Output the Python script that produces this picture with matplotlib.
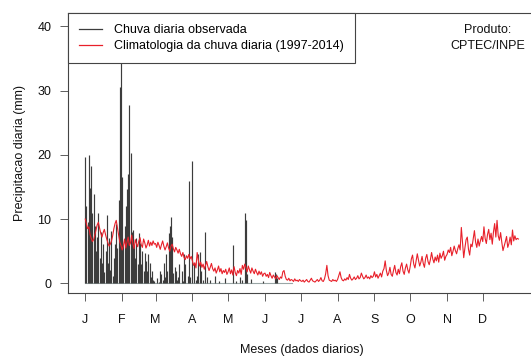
import numpy as np
import matplotlib
matplotlib.use("Agg")
import matplotlib.pyplot as plt
from matplotlib.lines import Line2D

# chuva diaria observada (mm), dias 1..175
obs = [19.7, 12.1, 9.5, 19.9, 14.8, 18.3, 11.0, 13.9, 9.0, 5.0,
       7.2, 10.9, 4.0, 8.0, 3.1, 6.2, 1.8, 5.0, 10.7, 3.2,
       7.0, 2.1, 8.1, 1.2, 4.0, 6.1, 9.2, 5.5, 13.0, 30.5,
       35.0, 16.5, 6.0, 9.0, 12.0, 14.7, 17.0, 27.7, 20.3, 8.0,
       8.3, 6.0, 4.0, 7.0, 3.0, 7.9, 6.3, 3.0, 5.0, 2.0,
       4.7, 3.5, 2.0, 4.6, 3.1, 1.0, 2.0, 0.5, 0.3, 0.0,
       0.8, 0.0, 0.2, 2.0, 1.5, 0.5, 3.2, 1.0, 4.6, 2.0,
       7.8, 9.0, 10.4, 7.2, 1.6, 2.6, 2.0, 0.5, 1.0, 3.0,
       0.0, 2.0, 0.4, 4.6, 3.0, 0.0, 1.2, 16.0, 1.0, 0.0,
       19.1, 3.1, 0.0, 0.5, 1.2, 4.6, 4.9, 2.0, 0.0, 0.6,
       0.0, 8.0, 1.0, 0.0, 0.0, 0.5, 0.0, 0.0, 0.0, 1.2,
       0.0, 0.0, 0.3, 0.0, 0.0, 0.0, 0.0, 0.8, 0.0, 0.0,
       0.0, 0.0, 0.0, 0.0, 5.9, 0.0, 0.0, 0.4, 0.0, 0.0,
       1.0, 0.0, 0.6, 0.0, 10.9, 9.8, 1.5, 0.0, 0.0, 0.7,
       0.0, 0.0, 0.0, 0.0, 0.0, 0.0, 0.0, 0.0, 0.0, 0.3,
       0.0, 0.0, 0.0, 0.0, 0.0, 0.0, 0.0, 0.0, 0.0, 1.8,
       1.5, 0.9, 0.0, 0.0, 0.0, 0.0, 0.0, 0.0, 0.0, 0.0,
       0.0, 0.0, 0.0, 0.0, 0.0]

# climatologia da chuva diaria 1997-2014 (mm), por mes
clim_jan = [10.0, 9.2, 8.5, 8.8, 7.6, 7.0, 6.5, 6.8, 7.5, 8.3, 9.1, 9.5, 8.6, 7.8, 7.2, 7.9,
            8.4, 7.6, 6.9, 6.3, 5.8, 6.1, 6.6, 7.4, 8.5, 9.3, 9.8, 8.7, 7.5, 6.4, 5.9]
clim_fev = [5.2, 5.8, 6.9, 5.5, 6.4, 7.2, 5.9, 6.3, 7.5, 6.1, 5.4, 6.8, 6.2, 5.7, 6.6, 7.1,
            6.0, 5.6, 6.9, 6.3, 5.5, 6.0, 6.7, 5.8, 6.4, 5.9, 6.6, 6.1]
clim_mar = [6.2, 5.6, 6.4, 5.9, 5.3, 6.0, 6.6, 5.8, 5.2, 5.7, 6.3, 5.5, 5.0, 5.8, 6.1, 5.4,
            4.9, 5.6, 5.2, 4.7, 5.3, 4.6, 4.2, 4.8, 4.0, 3.7, 4.3, 3.9, 4.5, 3.8, 4.2]
clim_abr = [3.5, 2.8, 3.2, 2.4, 4.8, 3.6, 2.7, 3.3, 2.5, 3.0, 2.2, 2.8, 3.4, 2.6, 2.0, 2.5,
            3.1, 2.3, 1.9, 2.4, 1.6, 2.1, 2.7, 1.8, 2.3, 1.5, 2.0, 1.7, 2.2, 1.4]
clim_mai = [1.8, 2.4, 1.5, 2.1, 1.3, 2.6, 1.7, 1.2, 2.0, 1.6, 2.3, 1.4, 2.8, 2.2, 3.0, 2.5,
            1.8, 2.7, 2.1, 1.6, 2.4, 1.9, 1.5, 2.2, 1.7, 1.3, 1.9, 1.4, 1.8, 1.1, 1.5]
clim_jun = [1.6, 1.1, 1.4, 0.9, 1.7, 1.2, 0.8, 1.3, 1.0, 0.7, 1.2, 0.9, 0.6, 1.0, 0.8, 1.8,
            2.0, 1.1, 0.6, 0.5, 0.8, 0.4, 0.6, 0.5, 0.3, 0.7, 0.4, 0.5, 0.3, 0.6]
clim_jul = [0.4, 0.3, 0.5, 0.2, 0.4, 0.6, 0.3, 0.2, 0.5, 0.8, 0.4, 0.3, 0.2, 0.4, 0.6, 0.3,
            0.5, 0.9, 0.4, 0.3, 0.7, 1.5, 2.8, 1.2, 0.5, 0.4, 0.3, 0.6, 0.4, 0.5, 0.3]
clim_ago = [0.6, 1.2, 1.8, 0.9, 0.5, 0.4, 0.7, 0.5, 0.9, 0.6, 1.4, 0.8, 0.5, 0.7, 1.0, 0.6,
            0.8, 1.2, 0.7, 0.9, 1.6, 1.1, 0.7, 0.9, 1.3, 0.8, 1.0, 0.7, 1.2, 0.9, 1.1]
clim_set = [1.8, 1.0, 1.4, 0.8, 1.2, 1.6, 1.0, 1.9, 2.3, 3.5, 2.0, 1.2, 1.6, 2.5, 1.4, 1.1,
            2.0, 2.8, 1.7, 1.3, 2.2, 1.5, 2.6, 3.2, 1.9, 1.4, 2.4, 3.0, 2.1, 1.6]
clim_out = [2.6, 3.8, 4.4, 3.0, 2.4, 3.5, 4.6, 3.6, 2.7, 3.3, 4.2, 3.1, 2.5, 3.9, 4.5, 3.4,
            2.9, 3.7, 4.8, 3.8, 3.2, 4.1, 3.5, 4.4, 3.3, 4.7, 3.9, 4.3, 5.0, 3.6, 4.2]
clim_nov = [4.5, 5.2, 4.8, 5.6, 4.3, 5.0, 5.8, 5.1, 4.6, 5.4, 6.0, 5.2, 8.7, 6.3, 4.0, 5.5,
            6.8, 7.2, 5.3, 4.4, 6.1, 5.7, 7.0, 8.2, 6.4, 5.6, 6.9, 5.8, 6.6, 7.3]
clim_dez = [6.5, 8.8, 7.0, 6.2, 7.6, 8.4, 6.8, 7.8, 6.1, 8.0, 9.3, 7.2, 9.8, 7.4, 6.7, 7.9,
            6.4, 5.1, 5.8, 6.5, 7.3, 5.6, 6.2, 7.2, 6.0, 8.3, 6.6, 7.4, 6.8, 7.0, 6.9]

meses = ["J", "F", "M", "A", "M", "J", "J", "A", "S", "O", "N", "D"]
dias_mes = [31, 28, 31, 30, 31, 30, 31, 31, 30, 31, 30, 31]

clim = np.concatenate([clim_jan, clim_fev, clim_mar, clim_abr, clim_mai, clim_jun,
                       clim_jul, clim_ago, clim_set, clim_out, clim_nov, clim_dez])
dias = np.arange(1, len(clim) + 1)
dias_obs = np.arange(1, len(obs) + 1)
inicio_mes = np.cumsum([1] + dias_mes[:-1])

plt.rcParams['font.family'] = ['Liberation Sans', 'DejaVu Sans']

fig = plt.figure(figsize=(5.31, 3.56), dpi=100)
ax = fig.add_axes([0.128, 0.176, 0.881, 0.7865])

ax.plot(dias_obs, np.zeros(len(obs)), color="#9aa6a6", lw=0.8, zorder=1)
ax.vlines(dias_obs, 0, obs, color="#3c3c3c", lw=0.85, zorder=2)
ax.plot(dias, clim, color="#e8202a", lw=0.8, zorder=3)

ax.set_xlim(-13.56, 379.56)
ax.set_ylim(-1.55, 42.0)
ax.set_xticks(inicio_mes)
ax.set_xticklabels(meses)
ax.set_yticks([0, 10, 20, 30, 40])
ax.tick_params(axis="both", direction="out", length=6, width=0.6, labelsize=9,
               color="#444444", labelcolor="#111111")
ax.tick_params(axis="x", pad=9)
ax.tick_params(axis="y", pad=6)
for s in ax.spines.values():
    s.set_linewidth(0.8)
    s.set_color("#444444")

ax.set_ylabel("Precipitacao diaria (mm)", fontsize=9, labelpad=8, color="#111111")
ax.set_xlabel("Meses (dados diarios)", fontsize=9, labelpad=13, color="#111111")

handles = [Line2D([], [], color="#3c3c3c", lw=0.9), Line2D([], [], color="#e8202a", lw=0.9)]
leg = ax.legend(handles, ["Chuva diaria observada", "Climatologia da chuva diaria (1997-2014)"],
                loc="upper left", bbox_to_anchor=(0, 1), borderaxespad=0, fontsize=9,
                fancybox=False, framealpha=1, edgecolor="#444444", handlelength=1.9,
                handletextpad=0.95, borderpad=0.85, labelspacing=0.35)
leg.get_frame().set_linewidth(0.8)
leg.set_zorder(5)

fig.text(0.918, 0.893, "Produto:\nCPTEC/INPE", ha="center", va="center", fontsize=9,
         linespacing=1.4, color="#111111")

fig.savefig("out.png", dpi=100)
